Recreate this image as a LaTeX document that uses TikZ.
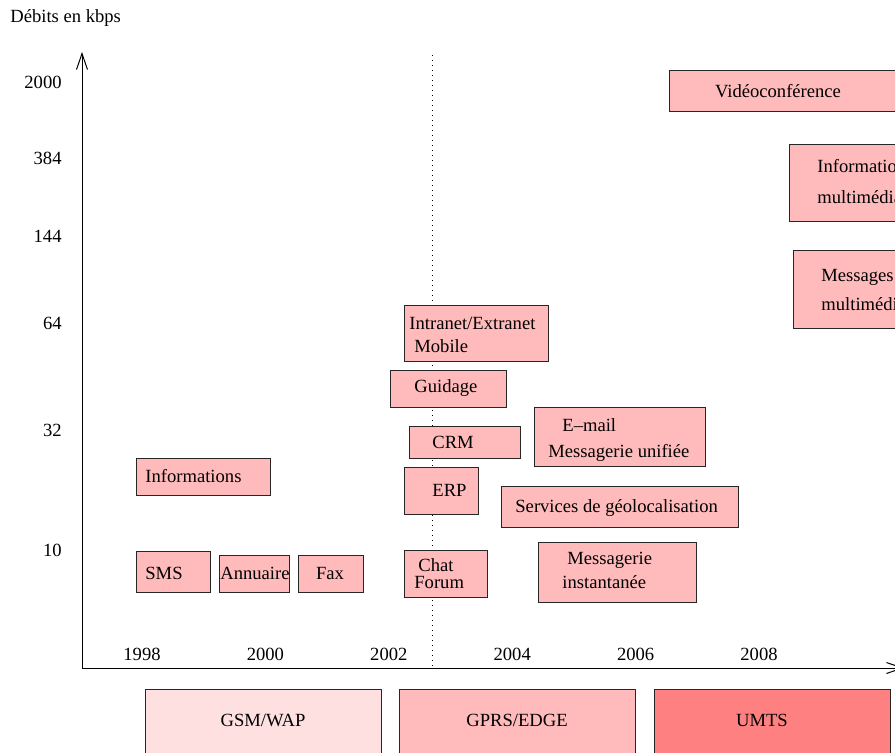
\documentclass[tikz,border=0pt]{standalone}
\usepackage{fontspec}
\setmainfont{Liberation Serif}
\usepackage{tikz}
\usetikzlibrary{arrows.meta}

\definecolor{lightpink}{RGB}{255,224,224}
\definecolor{midpink}{RGB}{255,187,187}
\definecolor{darkpink}{RGB}{255,128,128}

\begin{document}
\begin{tikzpicture}[x=0.5pt,y=-0.5pt,
  font=\fontsize{9.3pt}{11pt}\selectfont,
  axis/.style={line width=0.5pt,-{Straight Barb[length=8pt,width=5.5pt]}},
  service/.style={draw=black!85,line width=0.45pt,fill=midpink},
  txt/.style={inner sep=0pt,anchor=west},
  ctxt/.style={inner sep=0pt},
  tick/.style={inner sep=0pt}]

\useasboundingbox (0,0) rectangle (895,752);
\clip (0,0) rectangle (895,752);

% Axes
\coordinate (O) at (82,668);
\coordinate (Ytop) at (82,52);
\coordinate (Xend) at (904,668);
\draw[axis] (O)--(Ytop);
\draw[axis] (O)--(Xend);
\node[txt] (ylab) at (10,18) {Débits en kbps};

% Rates
\node[tick,anchor=east] (r2000) at (62,82) {2000};
\node[tick,anchor=east] (r384) at (62,158) {384};
\node[tick,anchor=east] (r144) at (62,236) {144};
\node[tick,anchor=east] (r64) at (62,323) {64};
\node[tick,anchor=east] (r32) at (62,430) {32};
\node[tick,anchor=east] (r10) at (62,550) {10};

% Years
\foreach \yr [count=\i from 0] in {1998,2000,2002,2004,2006,2008}
  \node[tick] (y\yr) at ({142+123.4*\i},654) {\yr};

% Today
\draw[dotted,line width=0.5pt] (432,55)--(432,668);

% Services
\draw[service] (669,70) rectangle (905,111);
\node[ctxt] (video) at (778,91) {Vidéoconférence};
\draw[service] (789,144) rectangle (905,221);
\node[txt] (infomm1) at (817,166) {Informations};
\node[txt] (infomm2) at (817,197) {multimédias};
\draw[service] (793,250) rectangle (905,328);
\node[txt] (msgmm1) at (821,277) {Messages};
\node[txt] (msgmm2) at (821,304) {multimédias};

\draw[service] (404,305) rectangle (548,361);
\node[txt] (intra1) at (409,323) {Intranet/Extranet};
\node[txt] (intra2) at (414,346) {Mobile};
\draw[service] (390,370) rectangle (506,407);
\node[txt] (guid) at (414,388) {Guidage};
\draw[service] (409,426) rectangle (520,458);
\node[txt] (crm) at (432,442) {CRM};
\draw[service] (534,407) rectangle (705,466);
\node[txt] (mail1) at (562,425) {E--mail};
\node[txt] (mail2) at (548,453) {Messagerie unifiée};
\draw[service] (136,458) rectangle (270,495);
\node[txt] (infos) at (145,476) {Informations};
\draw[service] (404,467) rectangle (478,514);
\node[txt] (erp) at (432,490) {ERP};
\draw[service] (501,486) rectangle (738,527);
\node[txt] (geo) at (515,508) {Services de géolocalisation};

\draw[service] (136,551) rectangle (210,592);
\node[txt] (sms) at (145,573) {SMS};
\draw[service] (219,555) rectangle (289,592);
\node[txt] (annu) at (220,573) {Annuaire};
\draw[service] (298,555) rectangle (363,592);
\node[ctxt] (fax) at (330,573) {Fax};
\draw[service] (404,550) rectangle (487,597);
\node[txt] (chat) at (418,565) {Chat};
\node[txt] (forum) at (414,582) {Forum};
\draw[service] (538,542) rectangle (696,602);
\node[txt] (inst1) at (567,560) {Messagerie};
\node[txt] (inst2) at (562,582) {instantanée};

% Networks
\draw[service,fill=lightpink] (145,689) rectangle (381,760);
\node[ctxt] (gsm) at (263,720) {GSM/WAP};
\draw[service] (399,689) rectangle (635,760);
\node[ctxt] (gprs) at (517,720) {GPRS/EDGE};
\draw[service,fill=darkpink] (654,689) rectangle (890,760);
\node[ctxt] (umts) at (762,720) {UMTS};

\end{tikzpicture}
\end{document}
